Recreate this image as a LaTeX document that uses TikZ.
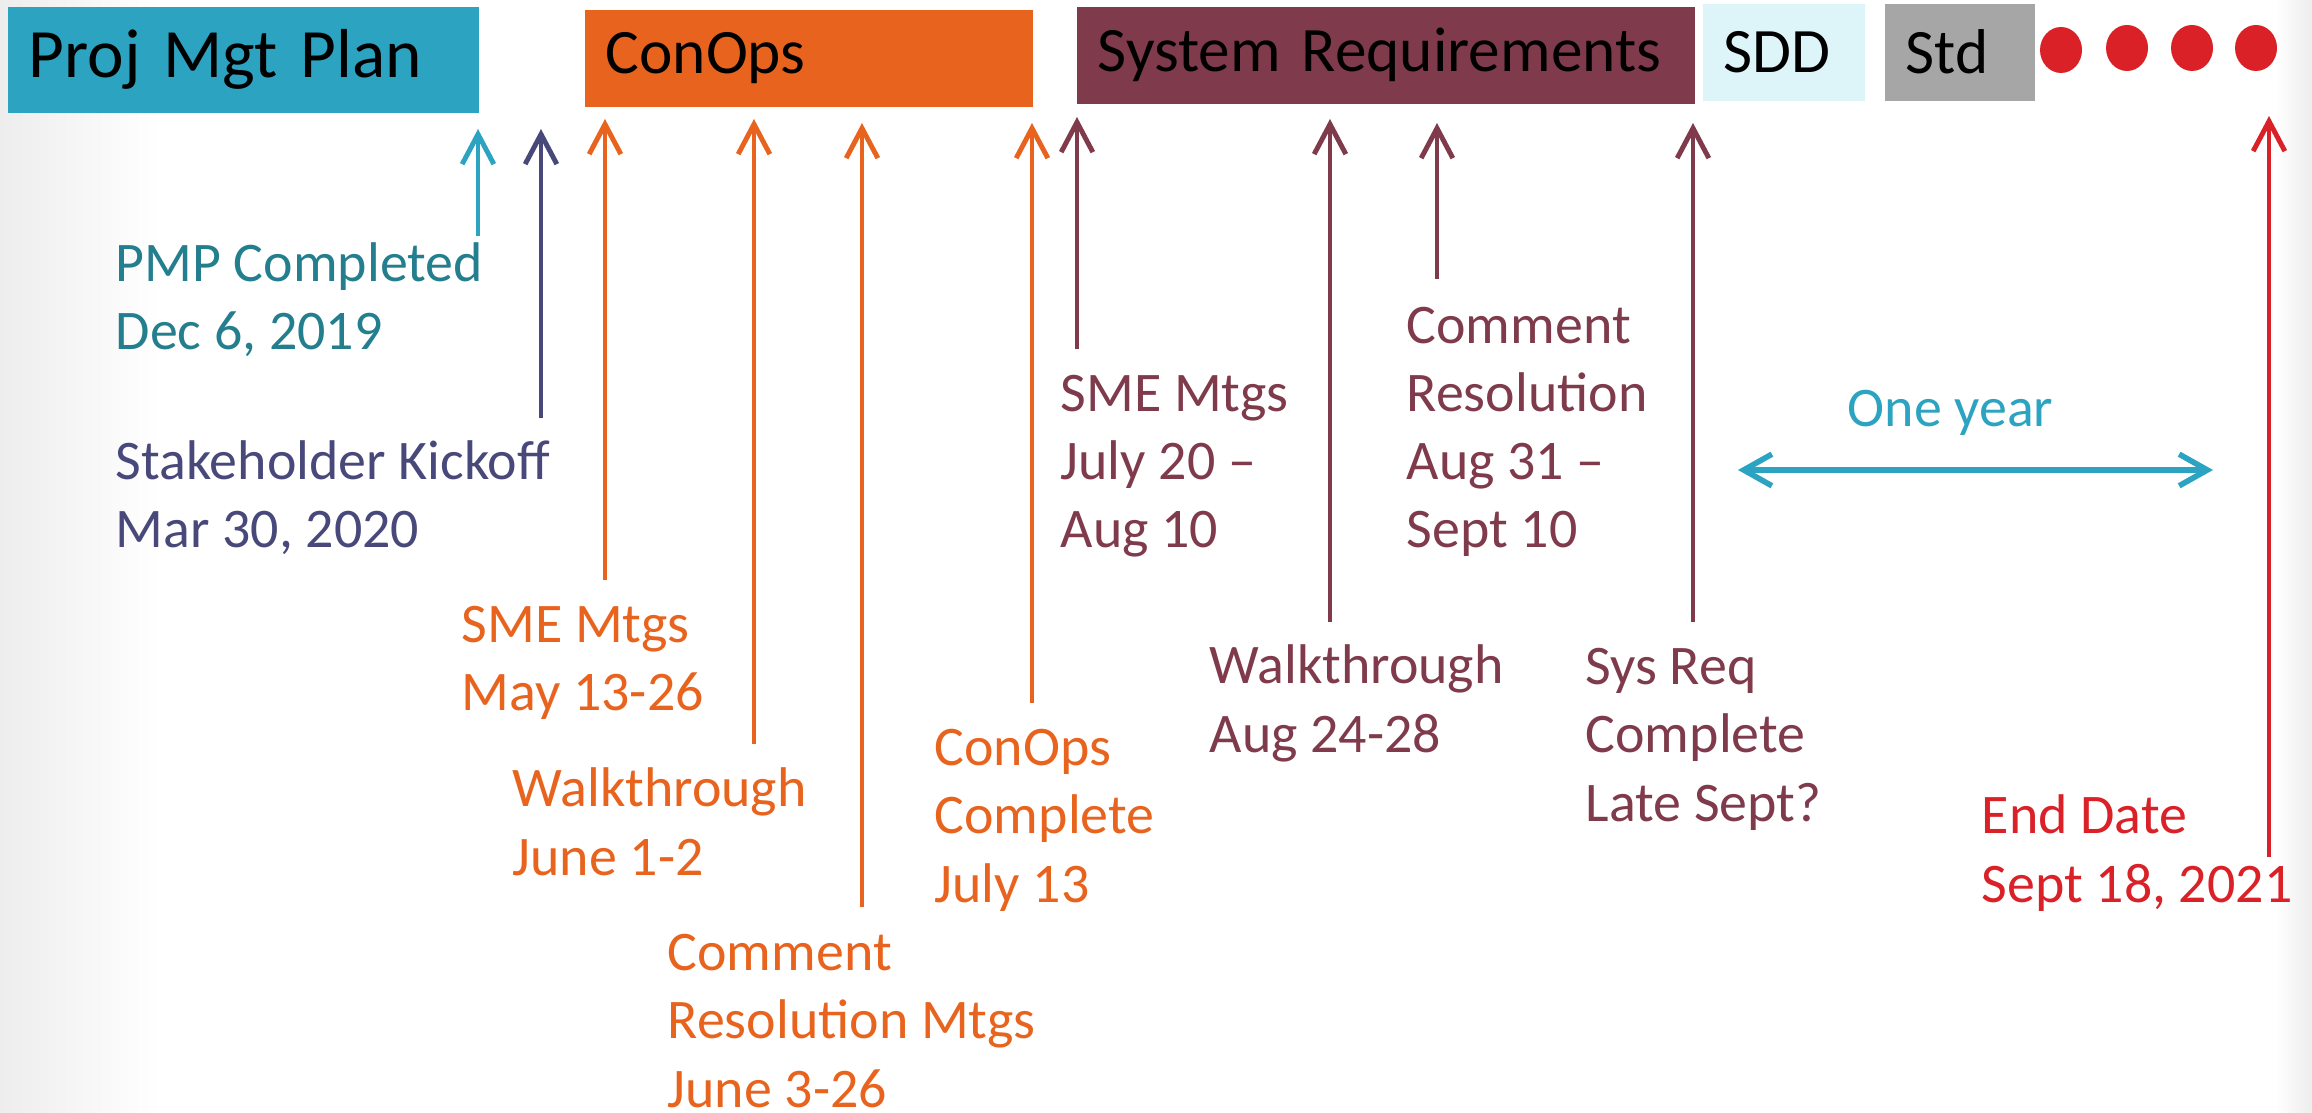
\documentclass[tikz,border=0pt]{standalone}
\usepackage{fontspec}
\setmainfont{Carlito}
\usetikzlibrary{arrows.meta}

\definecolor{pmpblue}{HTML}{2CA3C0}
\definecolor{pmptext}{HTML}{237E8E}
\definecolor{kickoff}{HTML}{48497A}
\definecolor{conops}{HTML}{E8641E}
\definecolor{sysreq}{HTML}{7F3B4B}
\definecolor{sdd}{HTML}{DDF4F9}
\definecolor{std}{HTML}{A6A6A6}
\definecolor{enddate}{HTML}{DA2128}

\begin{document}
\begin{tikzpicture}[x=0.01cm,y=-0.01cm,
  box/.style={anchor=north west, inner xsep=0.21cm, inner ysep=0pt, align=left,
    minimum height=0.97cm, font=\fontsize{18}{22}\selectfont},
  lbl/.style={anchor=base west, align=left, inner sep=0pt,
    font=\fontsize{15.9}{19.4}\selectfont},
  milestone/.style={-{Straight Barb[length=8.5pt,width=9pt]}, line width=1.4pt}]

  \fill[white] (0,0) rectangle (2312,1113);
  \shade[left color=black!7, right color=white] (0,0) rectangle (160,1113);
  \shade[left color=white, right color=black!7] (2275,0) rectangle (2312,1113);
  \useasboundingbox (0,0) rectangle (2312,1113);

  % phase boxes
  \node[box, fill=pmpblue, minimum height=1.06cm, text width=4.29cm,
    font=\fontsize{19.7}{24}\selectfont] (pmpbox) at (7,6) {Proj Mgt Plan};
  \node[box, fill=conops, text width=4.06cm] (conopsbox) at (584,9) {ConOps};
  \node[box, fill=sysreq, text width=5.76cm] (sysreqbox) at (1076,6) {System Requirements};
  \node[box, fill=sdd, text width=1.20cm] (sddbox) at (1702,3) {SDD};
  \node[box, fill=std, text width=1.08cm] (stdbox) at (1884,3) {Std};
  \foreach \x/\y in {2061/50, 2127/48, 2192/48, 2256/48}
    \fill[enddate] (\x,\y) ellipse [x radius=21, y radius=23];

  % milestones (anchored at the baseline of the last line)
  \node[lbl, text=pmptext] (pmp) at (115,350) {PMP Completed\\Dec 6, 2019};
  \node[lbl, text=kickoff] (kick) at (115,548) {Stakeholder Kickoff\\Mar 30, 2020};
  \node[lbl, text=conops] (sme1) at (461,711) {SME Mtgs\\May 13-26};
  \node[lbl, text=conops] (walk1) at (512,875) {Walkthrough\\June 1-2};
  \node[lbl, text=conops] (crm1) at (667,1107) {Comment\\Resolution Mtgs\\June 3-26};
  \node[lbl, text=conops] (cdone) at (934,902) {ConOps\\Complete\\July 13};
  \node[lbl, text=sysreq] (sme2) at (1060,548) {SME Mtgs\\July 20 --\\Aug 10};
  \node[lbl, text=sysreq] (crm2) at (1406,548) {Comment\\Resolution\\Aug 31 --\\Sept 10};
  \node[lbl, text=sysreq] (walk2) at (1209,752) {Walkthrough\\Aug 24-28};
  \node[lbl, text=sysreq] (sdone) at (1585,821) {Sys Req\\Complete\\Late Sept?};
  \node[lbl, text=enddate] (end) at (1981,902) {End Date\\Sept 18, 2021};
  \node[lbl, text=pmpblue] (year) at (1847,427) {One year};

  \coordinate (pmpA) at (478,236);   \coordinate (pmpB) at (478,129);
  \coordinate (kickA) at (541,418);  \coordinate (kickB) at (541,129);
  \coordinate (sme1A) at (605,580);  \coordinate (sme1B) at (605,119);
  \coordinate (walk1A) at (754,744); \coordinate (walk1B) at (754,119);
  \coordinate (crm1A) at (862,907);  \coordinate (crm1B) at (862,123);
  \coordinate (cdoneA) at (1032,703); \coordinate (cdoneB) at (1032,123);
  \coordinate (sme2A) at (1077,349); \coordinate (sme2B) at (1077,117);
  \coordinate (walk2A) at (1330,622); \coordinate (walk2B) at (1330,119);
  \coordinate (crm2A) at (1437,279); \coordinate (crm2B) at (1437,123);
  \coordinate (sdoneA) at (1693,622); \coordinate (sdoneB) at (1693,123);
  \coordinate (endA) at (2269,857);  \coordinate (endB) at (2269,116);

  \draw[milestone, pmpblue] (pmpA) -- (pmpB);
  \draw[milestone, kickoff] (kickA) -- (kickB);
  \draw[milestone, conops] (sme1A) -- (sme1B);
  \draw[milestone, conops] (walk1A) -- (walk1B);
  \draw[milestone, conops] (crm1A) -- (crm1B);
  \draw[milestone, conops] (cdoneA) -- (cdoneB);
  \draw[milestone, sysreq] (sme2A) -- (sme2B);
  \draw[milestone, sysreq] (walk2A) -- (walk2B);
  \draw[milestone, sysreq] (crm2A) -- (crm2B);
  \draw[milestone, sysreq] (sdoneA) -- (sdoneB);
  \draw[milestone, enddate] (endA) -- (endB);

  % one year span
  \coordinate (yearL) at (1738,470);
  \coordinate (yearR) at (2213,470);
  \draw[{Straight Barb[length=8pt,width=9pt]}-{Straight Barb[length=8pt,width=9pt]},
    pmpblue, line width=1.6pt] (yearL) -- (yearR);
\end{tikzpicture}
\end{document}
